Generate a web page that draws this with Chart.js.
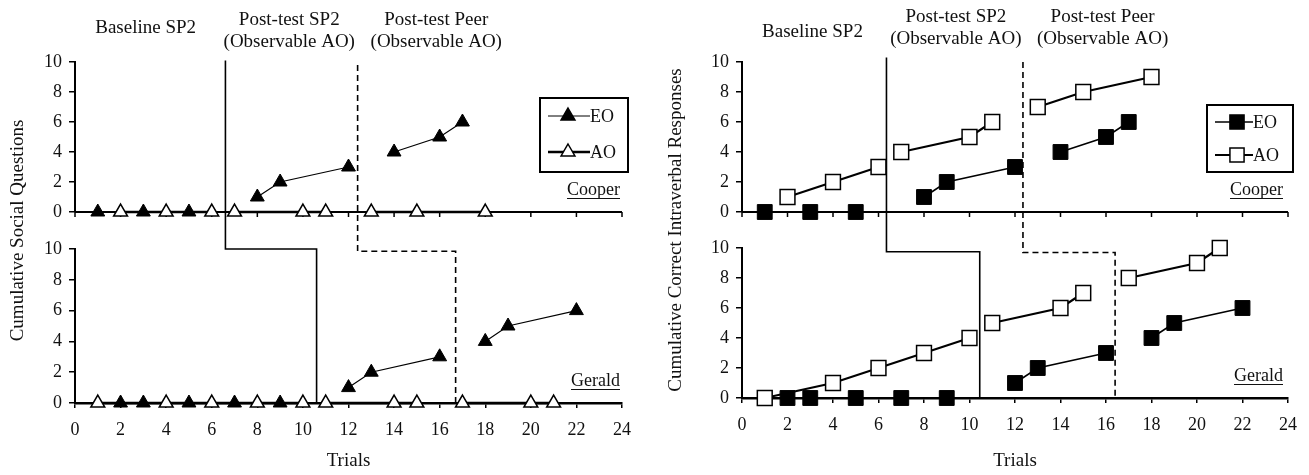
<!DOCTYPE html>
<html lang="en">
<head>
  <meta charset="UTF-8" />
  <title>Cumulative EO / AO responses - Cooper &amp; Gerald</title>
  <script src="https://cdn.jsdelivr.net/npm/chart.js"></script>
  <style>
    html, body { margin: 0; padding: 0; background: #fff; }
    #wrap { position: relative; width: 1309px; height: 475px; overflow: hidden; }
    #wrap canvas { position: absolute; top: 0; }
    #leftChart { left: 0; }
    #rightChart { left: 654px; }
  </style>
</head>
<body>
  <div id="wrap">
    <canvas id="leftChart" width="654" height="475"></canvas>
    <canvas id="rightChart" width="655" height="475"></canvas>
  </div>

  <script>
    // ---- data ----
    const phaseNames = [['Baseline SP2'], ['Post-test SP2', '(Observable AO)'], ['Post-test Peer', '(Observable AO)']];
    const participants = ['Cooper', 'Gerald'];
    const conditions = ['EO', 'AO'];
    const axisTitles = ['Cumulative Social Questions', 'Cumulative Correct Intraverbal Responses'];
    const xTitle = 'Trials';

    // left graph: social questions
    const sqCooperEOTrials = [1, 3, 5, 8, 9, 12, 14, 16, 17];
    const sqCooperEO       = [0, 0, 0, 1, 2, 3, 4, 5, 6];
    const sqCooperAOTrials = [2, 4, 6, 7, 10, 11, 13, 15, 18];
    const sqCooperAO       = [0, 0, 0, 0, 0, 0, 0, 0, 0];
    const sqGeraldEOTrials = [2, 3, 5, 7, 9, 12, 13, 16, 18, 19, 22];
    const sqGeraldEO       = [0, 0, 0, 0, 0, 1, 2, 3, 4, 5, 6];
    const sqGeraldAOTrials = [1, 4, 6, 8, 10, 11, 14, 15, 17, 20, 21];
    const sqGeraldAO       = [0, 0, 0, 0, 0, 0, 0, 0, 0, 0, 0];

    // right graph: correct intraverbal responses
    const irCooperEOTrials = [1, 3, 5, 8, 9, 12, 14, 16, 17];
    const irCooperEO       = [0, 0, 0, 1, 2, 3, 4, 5, 6];
    const irCooperAOTrials = [2, 4, 6, 7, 10, 11, 13, 15, 18];
    const irCooperAO       = [1, 2, 3, 4, 5, 6, 7, 8, 9];
    const irGeraldEOTrials = [2, 3, 5, 7, 9, 12, 13, 16, 18, 19, 22];
    const irGeraldEO       = [0, 0, 0, 0, 0, 1, 2, 3, 4, 5, 6];
    const irGeraldAOTrials = [1, 4, 6, 8, 10, 11, 14, 15, 17, 20, 21];
    const irGeraldAO       = [0, 1, 2, 3, 4, 5, 6, 7, 8, 9, 10];

    // phase change lines (trial positions)
    const sqPhaseCooper = [6.6, 12.4];
    const sqPhaseGerald = [10.6, 16.7];
    const irPhaseCooper = [6.35, 12.35];
    const irPhaseGerald = [10.45, 16.4];

    const FONT = '"Liberation Serif", "Times New Roman", serif';
    Chart.defaults.font.family = FONT;
    Chart.defaults.font.size = 18;
    Chart.defaults.color = '#111';

    // a line segment that crosses a phase change line is not drawn
    function crossesPhase(c, phases) {
      const a = c.p0.parsed.x, b = c.p1.parsed.x;
      return phases.some(p => a < p && p < b);
    }

    function series(label, trials, values, axis, phases, st) {
      return {
        label: label,
        data: trials.map((t, i) => ({ x: t, y: values[i] })),
        yAxisID: axis,
        pointStyle: st.shape,
        pointRadius: st.radius,
        pointBackgroundColor: st.fill,
        pointBorderColor: '#000',
        pointBorderWidth: st.pointBorder,
        borderColor: '#000',
        borderWidth: st.line,
        tension: 0,
        clip: false,
        segment: { borderColor: c => crossesPhase(c, phases) ? 'rgba(0,0,0,0)' : '#000' }
      };
    }

    function drawMarker(ctx, shape, cx, cy, r, fill) {
      ctx.beginPath();
      if (shape === 'triangle') {
        ctx.moveTo(cx, cy - r);
        ctx.lineTo(cx + r * 0.866, cy + r / 2);
        ctx.lineTo(cx - r * 0.866, cy + r / 2);
        ctx.closePath();
      } else {
        const h = r * Math.SQRT1_2;
        ctx.rect(cx - h, cy - h, h * 2, h * 2);
      }
      ctx.fillStyle = fill;
      ctx.fill();
      ctx.lineWidth = 1.5;
      ctx.strokeStyle = '#000';
      ctx.stroke();
    }

    // upper x axis line, phase change lines, phase names, names, legend
    const panelDecor = {
      id: 'panelDecor',
      beforeDatasetsDraw(chart, args, o) {
        const { ctx } = chart;
        const x = chart.scales.x, yT = chart.scales.yTop, yB = chart.scales.yBot;
        ctx.save();
        ctx.strokeStyle = '#000';

        const y0 = yT.getPixelForValue(0);
        ctx.lineWidth = 2;
        ctx.beginPath();
        ctx.moveTo(x.left, y0);
        ctx.lineTo(x.right, y0);
        ctx.stroke();
        ctx.lineWidth = 1.5;
        x.ticks.forEach(t => {
          const px = x.getPixelForValue(t.value);
          ctx.beginPath();
          ctx.moveTo(px, y0);
          ctx.lineTo(px, y0 + 5);
          ctx.stroke();
        });

        o.phaseTop.forEach((pt, i) => {
          const pb = o.phaseBottom[i];
          const yl = yB.getPixelForValue(o.stepLevel[i]);
          ctx.setLineDash(i === 0 ? [] : [6, 4]);
          ctx.lineWidth = 1.6;
          ctx.beginPath();
          ctx.moveTo(x.getPixelForValue(pt), yT.getPixelForValue(o.lineStart[i]));
          ctx.lineTo(x.getPixelForValue(pt), yl);
          ctx.lineTo(x.getPixelForValue(pb), yl);
          ctx.lineTo(x.getPixelForValue(pb), yB.getPixelForValue(0));
          ctx.stroke();
        });
        ctx.restore();
      },
      afterDraw(chart, args, o) {
        const { ctx } = chart;
        const x = chart.scales.x, yT = chart.scales.yTop, yB = chart.scales.yBot;
        ctx.save();
        ctx.fillStyle = '#111';
        ctx.textBaseline = 'middle';

        // phase names
        ctx.font = '19px ' + FONT;
        ctx.textAlign = 'center';
        phaseNames.forEach((lines, i) => {
          const px = x.getPixelForValue(o.phaseLabelX[i]);
          const ys = lines.length === 1 ? [o.singleRow] : o.doubleRows;
          lines.forEach((s, j) => ctx.fillText(s, px, ys[j]));
        });

        // participant names (underlined)
        ctx.font = '18px ' + FONT;
        ctx.textAlign = 'right';
        [yT, yB].forEach((sc, i) => {
          const yy = sc.getPixelForValue(0) - o.nameLift;
          const xr = x.right - o.nameInset;
          ctx.fillText(participants[i], xr, yy);
          const w = ctx.measureText(participants[i]).width;
          ctx.fillRect(xr - w, yy + 8, w, 1);
        });

        // legend
        const L = o.legend;
        ctx.strokeStyle = '#000';
        ctx.lineWidth = 2;
        ctx.strokeRect(L.left, L.top, L.width, L.height);
        ctx.font = '18px ' + FONT;
        ctx.textAlign = 'left';
        conditions.forEach((c, i) => {
          const yy = L.top + L.rows[i];
          ctx.lineWidth = L.lines[i];
          ctx.beginPath();
          ctx.moveTo(L.left + 8, yy);
          ctx.lineTo(L.left + L.lineEnd, yy);
          ctx.stroke();
          drawMarker(ctx, L.shape, L.left + L.marker, yy, L.radius, i === 0 ? '#000' : '#fff');
          ctx.fillStyle = '#111';
          ctx.fillText(c, L.left + L.lineEnd, yy + 1);
        });
        ctx.restore();
      }
    };

    function makePanel(id, p) {
      const yCommon = (weight) => ({
        type: 'linear', axis: 'y', position: 'left', stack: 'panel', stackWeight: weight,
        min: 0, max: 10,
        ticks: { stepSize: 2, padding: 7, autoSkip: false, color: '#111', font: { size: 18 } },
        grid: { drawOnChartArea: false, drawTicks: true, tickLength: 6, color: '#000', lineWidth: 1.5 },
        border: { color: '#000', width: 2 },
        afterFit: s => { s.width = p.yWidth; }
      });

      return new Chart(document.getElementById(id), {
        type: 'line',
        data: { datasets: p.datasets },
        options: {
          responsive: false,
          animation: false,
          layout: { padding: { top: 62, right: p.padRight, left: 0, bottom: 0 } },
          plugins: {
            legend: { display: false },
            tooltip: { enabled: false },
            panelDecor: p.decor
          },
          scales: {
            x: {
              type: 'linear', min: 0, max: 24,
              ticks: { stepSize: 2, padding: 11, autoSkip: false, maxRotation: 0, color: '#111', font: { size: 18 } },
              grid: { drawOnChartArea: false, drawTicks: true, tickLength: 5, color: '#000', lineWidth: 1.5 },
              border: { color: '#000', width: 2.5 },
              title: { display: true, text: xTitle, padding: { top: 0, bottom: 3 }, color: '#111', font: { size: 19 } },
              afterFit: s => { s.height = p.xHeight; }
            },
            yBot: yCommon(p.weights[2]),
            yGap: {
              type: 'linear', axis: 'y', position: 'left', stack: 'panel', stackWeight: p.weights[1],
              min: 0, max: 1, display: true,
              ticks: { display: false },
              grid: { display: false },
              border: { display: false },
              title: { display: true, text: p.title, padding: { top: p.titlePad, bottom: 0 }, color: '#111', font: { size: 19 } },
              afterFit: s => { s.width = p.yWidth; }
            },
            yTop: yCommon(p.weights[0])
          }
        },
        plugins: [panelDecor]
      });
    }

    const triOpen   = { shape: 'triangle', radius: 8, fill: '#fff', pointBorder: 1.5, line: 2.5 };
    const triFilled = { shape: 'triangle', radius: 8, fill: '#000', pointBorder: 1, line: 1.2 };
    const sqOpen    = { shape: 'rect', radius: 10.5, fill: '#fff', pointBorder: 1.5, line: 2.2 };
    const sqFilled  = { shape: 'rect', radius: 10.5, fill: '#000', pointBorder: 1, line: 1.6 };

    makePanel('leftChart', {
      yWidth: 75, xHeight: 72, padRight: 32, titlePad: 7,
      weights: [150, 37, 154],
      title: axisTitles[0],
      datasets: [
        series('Cooper AO', sqCooperAOTrials, sqCooperAO, 'yTop', sqPhaseCooper, triOpen),
        series('Gerald AO', sqGeraldAOTrials, sqGeraldAO, 'yBot', sqPhaseGerald, triOpen),
        series('Cooper EO', sqCooperEOTrials, sqCooperEO, 'yTop', sqPhaseCooper, triFilled),
        series('Gerald EO', sqGeraldEOTrials, sqGeraldEO, 'yBot', sqPhaseGerald, triFilled)
      ],
      decor: {
        phaseTop: sqPhaseCooper, phaseBottom: sqPhaseGerald,
        lineStart: [10.1, 9.8], stepLevel: [10, 9.85],
        phaseLabelX: [3.1, 9.4, 15.85], singleRow: 28, doubleRows: [20, 42],
        nameLift: 22, nameInset: 2,
        legend: { left: 540, top: 98, width: 88, height: 74, rows: [18, 54], lines: [1, 2.5],
                  lineEnd: 50, marker: 28, shape: 'triangle', radius: 8 }
      }
    });

    makePanel('rightChart', {
      yWidth: 88, xHeight: 77, padRight: 21, titlePad: 11,
      weights: [150, 36, 150],
      title: axisTitles[1],
      datasets: [
        series('Cooper AO', irCooperAOTrials, irCooperAO, 'yTop', irPhaseCooper, sqOpen),
        series('Gerald AO', irGeraldAOTrials, irGeraldAO, 'yBot', irPhaseGerald, sqOpen),
        series('Cooper EO', irCooperEOTrials, irCooperEO, 'yTop', irPhaseCooper, sqFilled),
        series('Gerald EO', irGeraldEOTrials, irGeraldEO, 'yBot', irPhaseGerald, sqFilled)
      ],
      decor: {
        phaseTop: irPhaseCooper, phaseBottom: irPhaseGerald,
        lineStart: [10.3, 10], stepLevel: [9.75, 9.7],
        phaseLabelX: [3.1, 9.4, 15.85], singleRow: 32, doubleRows: [17, 39],
        nameLift: 22, nameInset: 5,
        legend: { left: 553, top: 105, width: 86, height: 67, rows: [17, 50], lines: [1.5, 2],
                  lineEnd: 46, marker: 30, shape: 'rect', radius: 10 }
      }
    });
  </script>
</body>
</html>
